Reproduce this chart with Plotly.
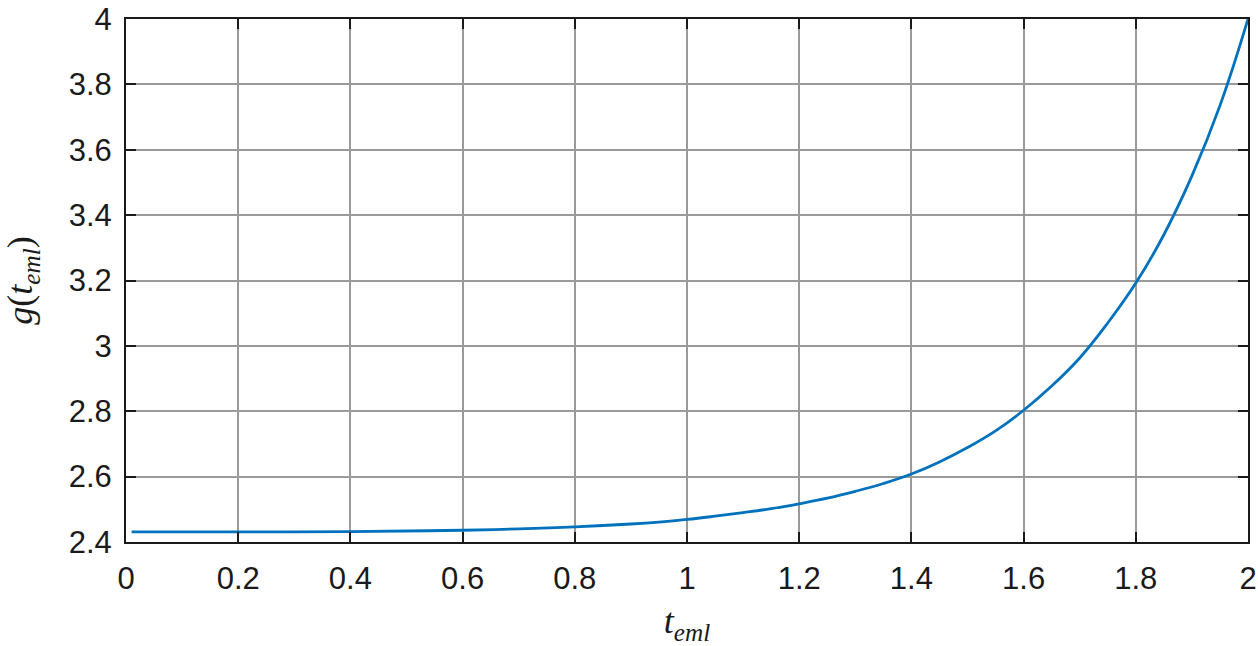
import plotly.graph_objects as go

t_eml = [0.01, 0.2, 0.4, 0.6, 0.7, 0.8, 0.9, 0.95, 1.0, 1.05, 1.1, 1.15, 1.2, 1.25,
         1.3, 1.35, 1.4, 1.45, 1.5, 1.55, 1.6, 1.65, 1.7, 1.75, 1.8, 1.85, 1.9,
         1.95, 2.0]
g_vals = [2.431, 2.431, 2.432, 2.436, 2.440, 2.446, 2.455, 2.461, 2.469, 2.479,
          2.490, 2.502, 2.517, 2.534, 2.555, 2.579, 2.608, 2.645, 2.689, 2.740,
          2.803, 2.877, 2.963, 3.070, 3.192, 3.340, 3.520, 3.735, 4.0]

x_ticks = [0, 0.2, 0.4, 0.6, 0.8, 1.0, 1.2, 1.4, 1.6, 1.8, 2.0]
x_tick_labels = ["0", "0.2", "0.4", "0.6", "0.8", "1", "1.2", "1.4", "1.6", "1.8", "2"]
y_ticks = [2.4, 2.6, 2.8, 3.0, 3.2, 3.4, 3.6, 3.8, 4.0]
y_tick_labels = ["2.4", "2.6", "2.8", "3", "3.2", "3.4", "3.6", "3.8", "4"]

fig = go.Figure()
fig.add_trace(go.Scatter(
    x=t_eml, y=g_vals, mode="lines",
    line=dict(color="#0072BD", width=2.8, shape="spline", smoothing=1.2),
    showlegend=False, cliponaxis=False,
))

tick_font = dict(family="Liberation Sans, Arial, sans-serif", size=31, color="#1a1a1a")
title_font = dict(family="Liberation Serif, Times New Roman, serif", size=36, color="#1a1a1a")

common = dict(
    showgrid=True, gridcolor="#9a9a9a", gridwidth=1.5,
    showline=True, linecolor="#1a1a1a", linewidth=2, mirror="ticks",
    ticks="inside", ticklen=10, tickwidth=2, tickcolor="#1a1a1a",
    zeroline=False, tickfont=tick_font, automargin=False,
)

fig.update_xaxes(
    range=[0, 2], tickvals=x_ticks, ticktext=x_tick_labels,
    ticklabelstandoff=8,
    title=dict(text="<i>t</i><sub><i>eml</i></sub>", font=title_font, standoff=18),
    **common,
)
fig.update_yaxes(
    range=[2.4, 4], tickvals=y_ticks, ticktext=y_tick_labels,
    ticklabelstandoff=6,
    title=dict(text="<i>g</i>(<i>t</i><sub><i>eml</i></sub>)", font=title_font, standoff=30),
    **common,
)

fig.update_layout(
    width=1258, height=646,
    margin=dict(l=126, r=10, t=19, b=104),
    paper_bgcolor="white", plot_bgcolor="white",
)

fig.write_html(
    "out.html",
    config={"displayModeBar": False},
    post_script="document.body.style.margin='0';document.body.style.overflow='hidden';",
)
